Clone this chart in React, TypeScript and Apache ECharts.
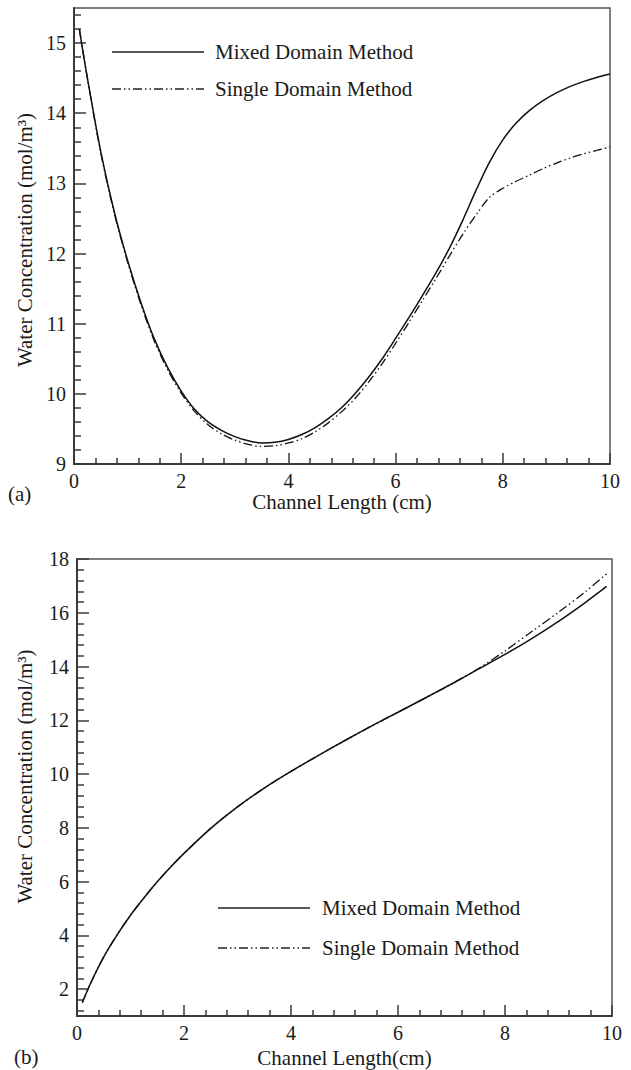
import React, { useEffect, useRef } from "react";
import * as echarts from "echarts";

// ---------- Data (a) ----------
const xA = [0.1, 0.25, 0.5, 0.75, 1.0, 1.25, 1.5, 1.75, 2.0, 2.25, 2.5, 2.75, 3.0, 3.25, 3.5, 3.75, 4.0, 4.25, 4.5, 4.75, 5.0, 5.25, 5.5, 5.75, 6.0, 6.25, 6.5, 6.75, 7.0, 7.25, 7.5, 7.75, 8.0, 8.25, 8.5, 8.75, 9.0, 9.25, 9.5, 9.75, 10.0];
const mixedA = [15.2, 14.5, 13.45, 12.6, 11.9, 11.3, 10.78, 10.37, 10.04, 9.78, 9.6, 9.48, 9.39, 9.33, 9.3, 9.31, 9.35, 9.42, 9.52, 9.65, 9.81, 10.01, 10.24, 10.5, 10.79, 11.09, 11.4, 11.72, 12.07, 12.47, 12.9, 13.3, 13.62, 13.86, 14.04, 14.18, 14.29, 14.38, 14.45, 14.51, 14.56];
const singleA = [15.2, 14.5, 13.43, 12.58, 11.88, 11.27, 10.75, 10.34, 10.01, 9.75, 9.56, 9.43, 9.34, 9.28, 9.25, 9.26, 9.3, 9.36, 9.46, 9.59, 9.75, 9.94, 10.17, 10.43, 10.72, 11.02, 11.33, 11.64, 11.96, 12.27, 12.55, 12.8, 12.93, 13.03, 13.12, 13.21, 13.29, 13.36, 13.42, 13.47, 13.52];

// ---------- Data (b) ----------
const xB = [0.1, 0.25, 0.5, 0.75, 1.0, 1.25, 1.5, 1.75, 2.0, 2.5, 3.0, 3.5, 4.0, 4.5, 5.0, 5.5, 6.0, 6.5, 7.0, 7.5, 8.0, 8.5, 9.0, 9.5, 9.9];
const mixedB = [1.5, 2.2, 3.2, 4.02, 4.75, 5.39, 5.99, 6.54, 7.05, 7.98, 8.78, 9.48, 10.1, 10.68, 11.24, 11.78, 12.3, 12.82, 13.35, 13.9, 14.45, 15.04, 15.68, 16.38, 16.98];
const singleB = [1.5, 2.2, 3.2, 4.02, 4.75, 5.39, 5.99, 6.54, 7.05, 7.98, 8.78, 9.48, 10.1, 10.68, 11.24, 11.78, 12.3, 12.82, 13.35, 13.92, 14.58, 15.3, 16.02, 16.78, 17.45];

// ---------- Ticks & texts ----------
const xMajorTicks = [0, 2, 4, 6, 8, 10];
const yMajorTicksA = [9, 10, 11, 12, 13, 14, 15];
const yMajorTicksB = [2, 4, 6, 8, 10, 12, 14, 16, 18];
const legendNames = ["Mixed Domain Method", "Single Domain Method"];
const xTitleA = "Channel Length (cm)";
const xTitleB = "Channel Length(cm)";
const yTitle = "Water Concentration (mol/m\u00B3)";

function steps(from: number, to: number, step: number, skip: number[]) {
  const out: number[] = [];
  const n = Math.round((to - from) / step);
  for (let i = 0; i <= n; i++) {
    const v = Math.round((from + i * step) * 1000) / 1000;
    if (!skip.some((s) => Math.abs(s - v) < 1e-6)) out.push(v);
  }
  return out;
}

const FONT = "Liberation Serif";
const INK = "#1a1a1a";
const AX = "#3a3a3a";

function zip(x: number[], y: number[]) {
  return x.map((v, i) => [v, y[i]]);
}

export default function App() {
  const ref = useRef<HTMLDivElement>(null);
  useEffect(() => {
    if (!ref.current) return;
    const chart = echarts.init(ref.current, null, { renderer: "svg" });

    const xMinor = steps(0, 10, 0.4, xMajorTicks);
    const yMinorA = steps(9.2, 15.4, 0.2, yMajorTicksA);
    const yMinorB = steps(1.2, 17.6, 0.4, yMajorTicksB);

    const majorX = (gi: number, name: string, gap: number) => ({
      type: "value",
      gridIndex: gi,
      min: 0,
      max: 10,
      position: "bottom",
      axisLine: { show: true, onZero: false, lineStyle: { color: AX, width: 2 } },
      axisTick: { show: true, inside: true, length: 11, customValues: xMajorTicks, lineStyle: { color: AX, width: 1.5 } },
      axisLabel: { customValues: xMajorTicks, fontSize: 20, color: INK, fontFamily: FONT, margin: 7 },
      splitLine: { show: false },
      name,
      nameLocation: "middle",
      nameGap: gap,
      nameTextStyle: { fontSize: 21, color: INK, fontFamily: FONT },
    });
    const minorX = (gi: number) => ({
      type: "value",
      gridIndex: gi,
      min: 0,
      max: 10,
      position: "bottom",
      axisLine: { show: false, onZero: false },
      axisTick: { show: true, inside: true, length: 6, customValues: xMinor, lineStyle: { color: AX, width: 1.5 } },
      axisLabel: { show: false },
      splitLine: { show: false },
    });
    const majorY = (gi: number, min: number, max: number, ticks: number[], gap: number, pad: number[]) => ({
      type: "value",
      gridIndex: gi,
      min,
      max,
      position: "left",
      axisLine: { show: true, onZero: false, lineStyle: { color: AX, width: 2 } },
      axisTick: { show: true, inside: true, length: 12, customValues: ticks, lineStyle: { color: AX, width: 1.5 } },
      axisLabel: { customValues: ticks, fontSize: 20, color: INK, fontFamily: FONT, margin: 8 },
      splitLine: { show: false },
      name: yTitle,
      nameLocation: "middle",
      nameRotate: 90,
      nameGap: gap,
      nameTextStyle: { fontSize: 21, color: INK, fontFamily: FONT, padding: pad },
    });
    const minorY = (gi: number, min: number, max: number, ticks: number[]) => ({
      type: "value",
      gridIndex: gi,
      min,
      max,
      position: "left",
      axisLine: { show: false, onZero: false },
      axisTick: { show: true, inside: true, length: 7, customValues: ticks, lineStyle: { color: AX, width: 1.5 } },
      axisLabel: { show: false },
      splitLine: { show: false },
    });

    const solid = { color: "#111", width: 1.5, type: "solid" };
    const dashed = { color: "#111", width: 1.3, type: [9, 3, 1.5, 3, 1.5, 3] };

    const legend = (x0: number, x1: number, y0: number, y1: number, tx: number) => [
      { type: "line", shape: { x1: x0, y1: y0, x2: x1, y2: y0 }, style: { stroke: "#222", lineWidth: 1.5 } },
      { type: "line", shape: { x1: x0, y1: y1, x2: x1, y2: y1 }, style: { stroke: "#222", lineWidth: 1.3, lineDash: [9, 3, 1.5, 3, 1.5, 3] } },
      { type: "text", x: tx, y: y0, style: { text: legendNames[0], fontSize: 21, fontFamily: FONT, fill: INK, verticalAlign: "middle" } },
      { type: "text", x: tx, y: y1, style: { text: legendNames[1], fontSize: 21, fontFamily: FONT, fill: INK, verticalAlign: "middle" } },
    ];

    chart.setOption({
      animation: false,
      backgroundColor: "#fff",
      textStyle: { fontFamily: FONT },
      grid: [
        { left: 74, top: 8, width: 536, height: 456, show: true, borderColor: "#555", borderWidth: 1.5, backgroundColor: "transparent" },
        { left: 77, top: 559, width: 535, height: 457, show: true, borderColor: "#555", borderWidth: 1.5, backgroundColor: "transparent" },
      ],
      xAxis: [majorX(0, xTitleA, 24), minorX(0), majorX(1, xTitleB, 31), minorX(1)],
      yAxis: [
        majorY(0, 9, 15.5, yMajorTicksA, 39, [0, 8, 0, 0]),
        minorY(0, 9, 15.5, yMinorA),
        majorY(1, 1, 18, yMajorTicksB, 42, [0, 0, 0, 22]),
        minorY(1, 1, 18, yMinorB),
      ],
      series: [
        { name: legendNames[0], type: "line", xAxisIndex: 0, yAxisIndex: 0, data: zip(xA, mixedA), showSymbol: false, symbol: "none", smooth: 0.3, lineStyle: solid },
        { name: legendNames[1], type: "line", xAxisIndex: 0, yAxisIndex: 0, data: zip(xA, singleA), showSymbol: false, symbol: "none", smooth: 0.3, lineStyle: dashed },
        { name: legendNames[0], type: "line", xAxisIndex: 2, yAxisIndex: 2, data: zip(xB, mixedB), showSymbol: false, symbol: "none", smooth: 0.3, lineStyle: solid },
        { name: legendNames[1], type: "line", xAxisIndex: 2, yAxisIndex: 2, data: zip(xB, singleB), showSymbol: false, symbol: "none", smooth: 0.3, lineStyle: dashed },
      ],
      graphic: [
        ...legend(112, 204, 52, 89, 215),
        ...legend(218, 310, 908, 948, 322),
        { type: "text", x: 8, y: 494, style: { text: "(a)", fontSize: 21, fontFamily: FONT, fill: INK, verticalAlign: "middle" } },
        { type: "text", x: 14, y: 1057, style: { text: "(b)", fontSize: 21, fontFamily: FONT, fill: INK, verticalAlign: "middle" } },
      ],
    });
    return () => chart.dispose();
  }, []);
  return <div ref={ref} style={{ position: "absolute", left: 0, top: 0, width: 631, height: 1070, fontFamily: FONT }} />;
}
